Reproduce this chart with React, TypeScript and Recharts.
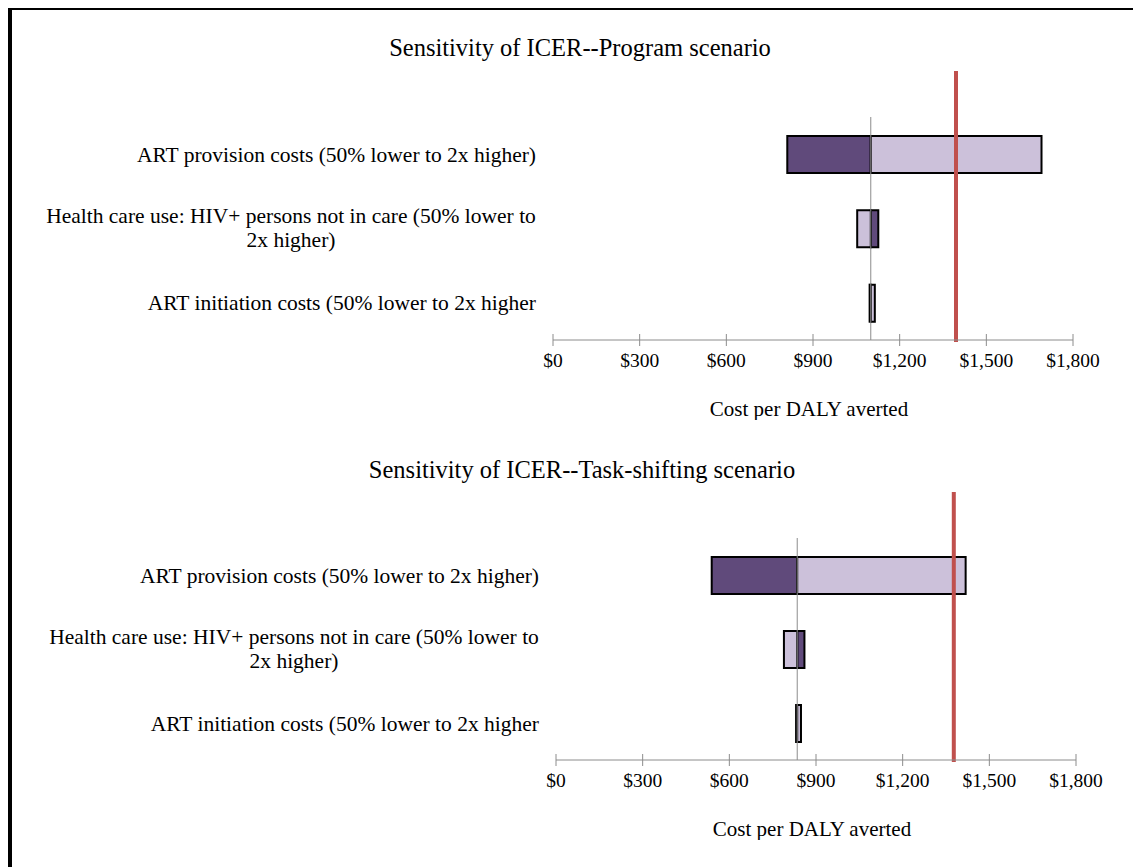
import { BarChart, Bar, XAxis, YAxis, ReferenceLine } from "recharts";

// tornado rows, top to bottom; "|" splits a label over two lines
const categories = [
  "ART provision costs (50% lower to 2x higher)",
  "Health care use: HIV+ persons not in care (50% lower to|2x higher)",
  "ART initiation costs (50% lower to 2x higher",
];

// ICER when the input is at its low value (dark) / high value (light)
const programBase = 1100;
const programLow = [811, 1126, 1096];
const programHigh = [1691, 1053, 1114];
const programThreshold = 1395;

const taskBase = 835;
const taskLow = [539, 860, 831];
const taskHigh = [1418, 789, 848];
const taskThreshold = 1377;

const xTicks = [0, 300, 600, 900, 1200, 1500, 1800];

const DARK = "#604A7B";
const LIGHT = "#CCC1DA";
const RED = "#C0504D";
const AXIS = "#8c8c8c";
const FONT = "'Liberation Serif', 'Times New Roman', serif";

const span = (a: number, b: number) => [Math.min(a, b), Math.max(a, b)];

const buildRows = (base: number, low: number[], high: number[]) =>
  categories.map((name, i) => ({
    name,
    low: span(base, low[i]),
    high: span(base, high[i]),
  }));

const fmt = (v: number) => "$" + v.toLocaleString("en-US");

const CategoryTick = (props: any) => {
  const { x, y, payload } = props;
  const lines: string[] = String(payload.value).split("|");
  if (lines.length === 1) {
    return (
      <text x={x} y={y} dy="0.35em" textAnchor="end" fontSize={21.5} fontFamily={FONT} fill="#000">
        {lines[0]}
      </text>
    );
  }
  const cx = x - 245;
  return (
    <text x={cx} y={y} textAnchor="middle" fontSize={21.5} fontFamily={FONT} fill="#000">
      {lines.map((l, i) => (
        <tspan key={i} x={cx} dy={i === 0 ? "-0.25em" : "1.12em"}>
          {l}
        </tspan>
      ))}
    </text>
  );
};

const ValueTick = (props: any) => {
  const { x, y, payload } = props;
  return (
    <g>
      <line x1={x} x2={x} y1={y - 6} y2={y + 6} stroke={AXIS} strokeWidth={1} />
      <text x={x} y={y + 27} textAnchor="middle" fontSize={19.5} fontFamily={FONT} fill="#000">
        {fmt(payload.value)}
      </text>
    </g>
  );
};

const ThresholdLine = (p: any) => (
  <line
    x1={p.x1}
    x2={p.x2}
    y1={Math.min(p.y1, p.y2) - 46}
    y2={Math.max(p.y1, p.y2) + 2}
    stroke={RED}
    strokeWidth={4}
  />
);

type TornadoProps = {
  base: number;
  low: number[];
  high: number[];
  threshold: number;
  marginTop: number;
  plotHeight: number;
  axisWidth: number;
};

const Tornado = ({ base, low, high, threshold, marginTop, plotHeight, axisWidth }: TornadoProps) => {
  const rows = buildRows(base, low, high);
  const width = 1123;
  const plotWidth = 520;
  return (
    <BarChart
      width={width}
      height={marginTop + plotHeight + 80}
      data={rows}
      layout="vertical"
      barGap={-37}
      margin={{ top: marginTop, right: width - axisWidth - plotWidth, bottom: 0, left: 0 }}
    >
      <XAxis
        type="number"
        domain={[0, 1800]}
        ticks={xTicks}
        interval={0}
        height={80}
        tickSize={0}
        tickMargin={0}
        tickLine={false}
        axisLine={{ stroke: AXIS }}
        tick={<ValueTick />}
        label={{
          value: "Cost per DALY averted",
          position: "insideBottom",
          offset: 4,
          dx: -4,
          style: { fontSize: 21, fontFamily: FONT, fill: "#000" },
        }}
      />
      <YAxis
        type="category"
        dataKey="name"
        width={axisWidth}
        axisLine={false}
        tickLine={false}
        tickSize={0}
        tickMargin={17}
        interval={0}
        tick={<CategoryTick />}
      />
      <ReferenceLine x={base} stroke={AXIS} strokeWidth={1} />
      <Bar dataKey="low" fill={DARK} stroke="#000" strokeWidth={2} barSize={37} isAnimationActive={false} />
      <Bar dataKey="high" fill={LIGHT} stroke="#000" strokeWidth={2} barSize={37} isAnimationActive={false} />
      <ReferenceLine x={threshold} stroke={RED} strokeWidth={4} shape={ThresholdLine} />
    </BarChart>
  );
};

const titleStyle = (top: number, left: number): React.CSSProperties => ({
  position: "absolute",
  top,
  left,
  width: 600,
  textAlign: "center",
  fontSize: 24.5,
  fontFamily: FONT,
  lineHeight: "28px",
});

export default function App() {
  return (
    <div
      style={{
        position: "relative",
        width: 1123,
        height: 860,
        marginTop: -2,
        border: "4px solid #000",
        background: "#fff",
        fontFamily: FONT,
      }}
    >
      <div style={titleStyle(24, 268)}>Sensitivity of ICER--Program scenario</div>
      <div style={{ position: "absolute", top: 0, left: 0 }}>
        <Tornado
          base={programBase}
          low={programLow}
          high={programHigh}
          threshold={programThreshold}
          marginTop={107}
          plotHeight={223}
          axisWidth={541}
        />
      </div>
      <div style={titleStyle(446, 270)}>Sensitivity of ICER--Task-shifting scenario</div>
      <div style={{ position: "absolute", top: 410, left: 0 }}>
        <Tornado
          base={taskBase}
          low={taskLow}
          high={taskHigh}
          threshold={taskThreshold}
          marginTop={118}
          plotHeight={222}
          axisWidth={544}
        />
      </div>
    </div>
  );
}
